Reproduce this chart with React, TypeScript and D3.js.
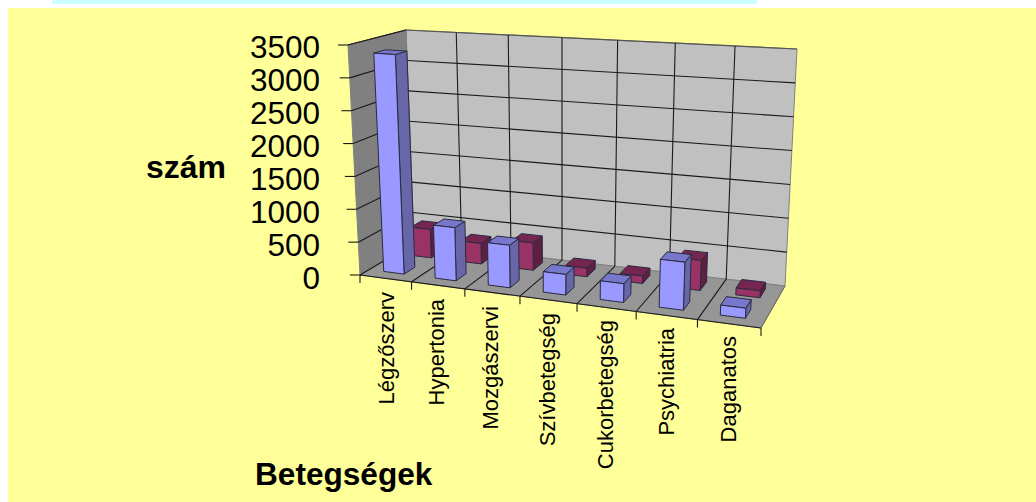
import {useEffect, useRef} from 'react';
import * as d3 from 'd3';

const categories = [
  'Légzőszerv',
  'Hypertonia',
  'Mozgászervi',
  'Szívbetegség',
  'Cukorbetegség',
  'Psychiatria',
  'Daganatos',
];
const seriesA = [3350, 800, 630, 300, 270, 680, 140];
const seriesB = [450, 320, 420, 130, 110, 440, 100];
const valueTicks = [0, 500, 1000, 1500, 2000, 2500, 3000, 3500];

type Pt = [number, number];

// box corners of the 3D chart: [front/back][bottom/top][left/right]
const FBL: Pt = [360, 275];
const FBR: Pt = [761, 328];
const BBL: Pt = [414, 243];
const BBR: Pt = [785, 286];
const FTL: Pt = [348, 45];
const FTR: Pt = [774, 72];
const BTL: Pt = [406, 30];
const BTR: Pt = [797, 49];

const mix = (a: Pt, b: Pt, t: number): Pt => [
  a[0] + (b[0] - a[0]) * t,
  a[1] + (b[1] - a[1]) * t,
];

const uScale = d3.scaleLinear().domain([0, categories.length]).range([0, 1]);
const vScale = d3.scaleLinear().domain([0, 3500]).range([0, 1]);
const rowScale = d3.scaleBand<number>().domain([0, 1]).range([0.17, 0.88]).paddingInner(0.58);

// cat = position along the categories, val = value, depth = 0 front .. 1 back
const project = (cat: number, val: number, depth: number): Pt => {
  const raw = uScale(cat);
  const u = raw / (raw + 1.13 * (1 - raw)); // perspective on the wide axis
  const v = vScale(val);
  const bottom = mix(mix(FBL, FBR, u), mix(BBL, BBR, u), depth);
  const top = mix(mix(FTL, FTR, u), mix(BTL, BTR, u), depth);
  return mix(bottom, top, v);
};

const poly = d3.line<Pt>().curve(d3.curveLinearClosed);

const App = () => {
  const svgRef = useRef<SVGSVGElement | null>(null);

  useEffect(() => {
    if (!svgRef.current) return;
    const svg = d3.select(svgRef.current);
    svg.selectAll('*').remove();

    svg.append('rect').attr('x', 52).attr('y', 0).attr('width', 705).attr('height', 4).attr('fill', '#CCFFFF');
    svg.append('rect').attr('x', 8).attr('y', 8).attr('width', 1028).attr('height', 494).attr('fill', '#FFFF99');

    const face = (pts: Pt[], fill: string, stroke = '#808080', width = 1) =>
      svg
        .append('path')
        .attr('d', poly(pts))
        .attr('fill', fill)
        .attr('stroke', stroke)
        .attr('stroke-width', width)
        .attr('stroke-linejoin', 'round');
    const seg = (a: Pt, b: Pt, color = '#1a1a1a', width = 1.1) =>
      svg
        .append('line')
        .attr('x1', a[0])
        .attr('y1', a[1])
        .attr('x2', b[0])
        .attr('y2', b[1])
        .attr('stroke', color)
        .attr('stroke-width', width);

    const n = categories.length;

    // walls and floor
    face([BBL, BBR, BTR, BTL], '#C0C0C0');
    face([FBL, BBL, BTL, FTL], '#808080');
    face([FBL, FBR, BBR, BBL], '#969696');
    seg(BTL, BTR, '#555', 1.2);
    seg(FTL, BTL, '#555', 1.2);

    // gridlines
    valueTicks.forEach((t) => {
      if (t > 0 && t < 3500) seg(project(0, t, 1), project(n, t, 1));
      seg(project(0, t, 0), project(0, t, 1));
      const p = project(0, t, 0);
      seg([p[0] - 10, p[1]], p);
    });
    d3.range(1, n).forEach((i) => {
      seg(project(i, 0, 1), project(i, 3500, 1));
      seg(project(i, 0, 0), project(i, 0, 1));
    });
    d3.range(0, n + 1).forEach((i) => {
      const p = project(i, 0, 0);
      seg(p, [p[0], p[1] + 8]);
    });
    seg(FBL, FBR);
    seg(FBR, BBR, '#666', 1);

    // bars, back row first
    const bar = (
      i: number,
      value: number,
      row: number,
      colors: {front: string; side: string; top: string; c0: number; c1: number}
    ) => {
      const c0 = i + colors.c0;
      const c1 = i + colors.c1;
      const d0 = rowScale(row)!;
      const d1 = d0 + rowScale.bandwidth();
      const s = '#2a2a40';
      face(
        [project(c1, 0, d0), project(c1, 0, d1), project(c1, value, d1), project(c1, value, d0)],
        colors.side,
        s
      );
      face(
        [project(c0, value, d0), project(c1, value, d0), project(c1, value, d1), project(c0, value, d1)],
        colors.top,
        s
      );
      face(
        [project(c0, 0, d0), project(c1, 0, d0), project(c1, value, d0), project(c0, value, d0)],
        colors.front,
        s
      );
    };
    seriesB.forEach((v, i) =>
      bar(i, v, 1, {front: '#993366', side: '#5E1F40', top: '#742650', c0: 0.32, c1: 0.72})
    );
    seriesA.forEach((v, i) =>
      bar(i, v, 0, {front: '#9999FF', side: '#6666A8', top: '#7777CC', c0: 0.29, c1: 0.69})
    );

    const font = '"Liberation Sans", Arial, sans-serif';

    // value axis labels
    valueTicks.forEach((t, i) => {
      svg
        .append('text')
        .attr('x', 320)
        .attr('y', 278 - i * 33 + 11)
        .attr('text-anchor', 'end')
        .attr('font-family', font)
        .attr('font-size', 31.5)
        .attr('fill', '#000')
        .text(d3.format('d')(t));
    });

    // category labels
    const labelX = [386, 436, 490, 547, 605, 666, 728];
    const labelTop = [292, 299, 306, 313, 320, 328, 336];
    categories.forEach((c, i) => {
      svg
        .append('text')
        .attr('transform', `translate(${labelX[i] + 8},${labelTop[i]}) rotate(-90)`)
        .attr('text-anchor', 'end')
        .attr('font-family', font)
        .attr('font-size', 22)
        .attr('fill', '#000')
        .text(c);
    });

    svg
      .append('text')
      .attr('x', 146)
      .attr('y', 178)
      .attr('font-family', font)
      .attr('font-weight', 'bold')
      .attr('font-size', 32)
      .attr('fill', '#000')
      .text('szám');
    svg
      .append('text')
      .attr('x', 255)
      .attr('y', 485)
      .attr('font-family', font)
      .attr('font-weight', 'bold')
      .attr('font-size', 31.6)
      .attr('fill', '#000')
      .text('Betegségek');
  }, []);

  return (
    <svg
      ref={svgRef}
      width={1036}
      height={502}
      style={{position: 'absolute', left: 0, top: 0, display: 'block', background: '#fff'}}
    ></svg>
  );
};

export default App;
